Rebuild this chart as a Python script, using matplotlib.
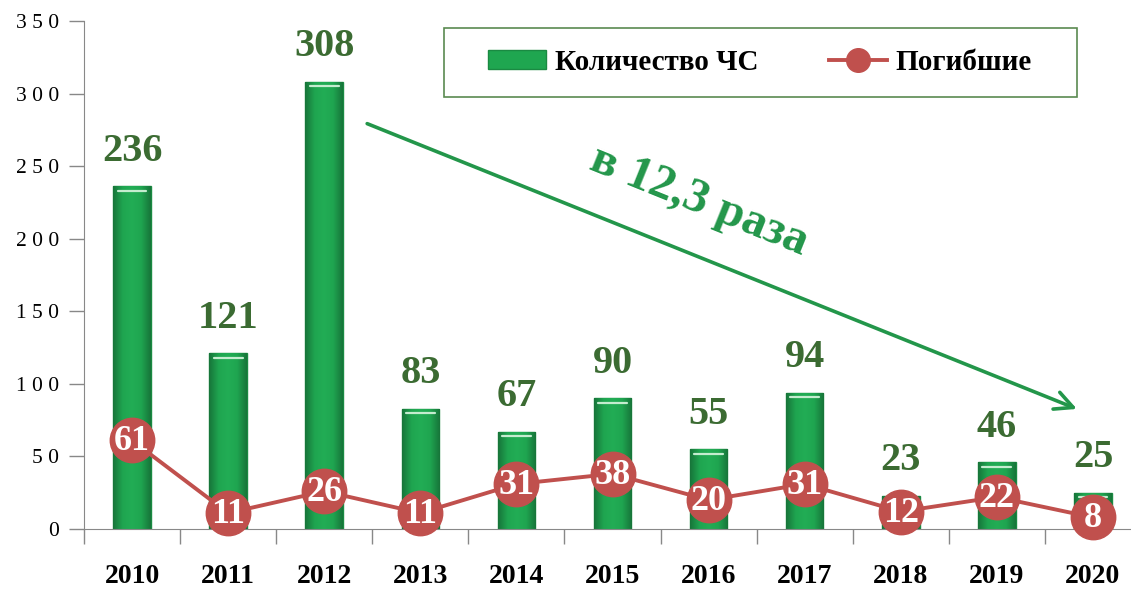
import numpy as np
import matplotlib.pyplot as plt
from matplotlib.patches import Patch, Rectangle
from matplotlib.lines import Line2D
from matplotlib.colors import LinearSegmentedColormap

years = ['2010', '2011', '2012', '2013', '2014', '2015', '2016', '2017', '2018', '2019', '2020']
emergencies = [236, 121, 308, 83, 67, 90, 55, 94, 23, 46, 25]
deaths = [61, 11, 26, 11, 31, 38, 20, 31, 12, 22, 8]

plt.rcParams['font.family'] = ['Liberation Serif', 'DejaVu Serif']

bar_green = '#1fa650'
bar_edge = '#1a8a42'
label_green = '#3b6b32'
red = '#c0504d'
arrow_green = '#23964a'

fig = plt.figure(figsize=(11.31, 5.92), dpi=100)
ax = fig.add_axes([84 / 1131, 63 / 592, 1057 / 1131, 508 / 592])

x = np.arange(len(years))
bars = ax.bar(x, emergencies, width=0.39, color=bar_green, edgecolor=bar_edge, linewidth=1.0, zorder=2)

# horizontal shading inside bars (dark edges, bright middle)
shade = LinearSegmentedColormap.from_list('shade', ['#17753a', '#1fa550', '#22ad55', '#1fa550', '#17753a'])
grad = np.linspace(0, 1, 64).reshape(1, -1)
for b in bars:
    im = ax.imshow(grad, cmap=shade, aspect='auto', zorder=2.5,
                   extent=(b.get_x(), b.get_x() + b.get_width(), 0, b.get_height()))
    im.set_clip_path(b)

for xi, v in zip(x, emergencies):
    ax.plot([xi - 0.15, xi + 0.15], [v - 3, v - 3], color='#c4eccf', lw=1.6, zorder=3,
            solid_capstyle='round')
    ax.annotate(str(v), (xi, v), xytext=(0, 12), textcoords='offset points',
                ha='center', va='bottom', fontsize=29, fontweight='bold', color=label_green)

ax.plot(x, deaths, color=red, lw=2.8, marker='o', markersize=32, markerfacecolor=red,
        markeredgecolor=red, zorder=4, clip_on=False)
for xi, v in zip(x, deaths):
    ax.text(xi, v - 1, str(v), ha='center', va='center', fontsize=26, fontweight='bold',
            color='white', zorder=5)

ax.set_xlim(-0.5, 10.5)
ax.set_ylim(0, 350)
yt = list(range(0, 351, 50))
ax.set_yticks(yt)
ax.set_yticklabels([' '.join(str(t)) for t in yt])
ax.tick_params(axis='y', direction='out', length=11, width=1, color='#888888', labelsize=15.5, pad=7)
ax.set_xticks(x)
ax.set_xticklabels(years, fontsize=20, fontweight='bold')
ax.tick_params(axis='x', which='major', length=0, pad=25)
ax.set_xticks(np.arange(-0.5, 10.6, 1), minor=True)
ax.tick_params(axis='x', which='minor', direction='out', length=11, width=1, color='#888888')

for s in ['top', 'right']:
    ax.spines[s].set_visible(False)
ax.spines['left'].set_color('#888888')
ax.spines['bottom'].set_color('#888888')

# trend arrow and caption
ax.annotate('', xy=(9.86, 82), xytext=(2.42, 280),
            arrowprops=dict(arrowstyle='->,head_length=1.3,head_width=0.65', color=arrow_green, lw=2.6))
ax.text(5.9, 226, 'в 12,3 раза', rotation=-22, ha='center', va='center',
        fontsize=35, fontweight='bold', color=arrow_green, rotation_mode='anchor')

handles = [Patch(facecolor=bar_green, edgecolor=bar_edge),
           Line2D([0], [0], color=red, lw=2.8, marker='o', markersize=17)]
leg = fig.legend(handles, ['Количество ЧС', 'Погибшие'], ncol=2,
                 loc='center', bbox_to_anchor=(760 / 1131, 1 - 62.5 / 592),
                 prop={'weight': 'bold', 'size': 21}, frameon=False,
                 handlelength=2.0, handleheight=0.6, columnspacing=2.4,
                 borderaxespad=0, handletextpad=0.3)
# legend box, wider than the legend's own frame
fig.patches.append(Rectangle((444 / 1131, 1 - 97 / 592), 633 / 1131, 69 / 592,
                             transform=fig.transFigure, fill=False,
                             edgecolor='#5a8a50', linewidth=1.2))

fig.savefig('out.png', dpi=100)
